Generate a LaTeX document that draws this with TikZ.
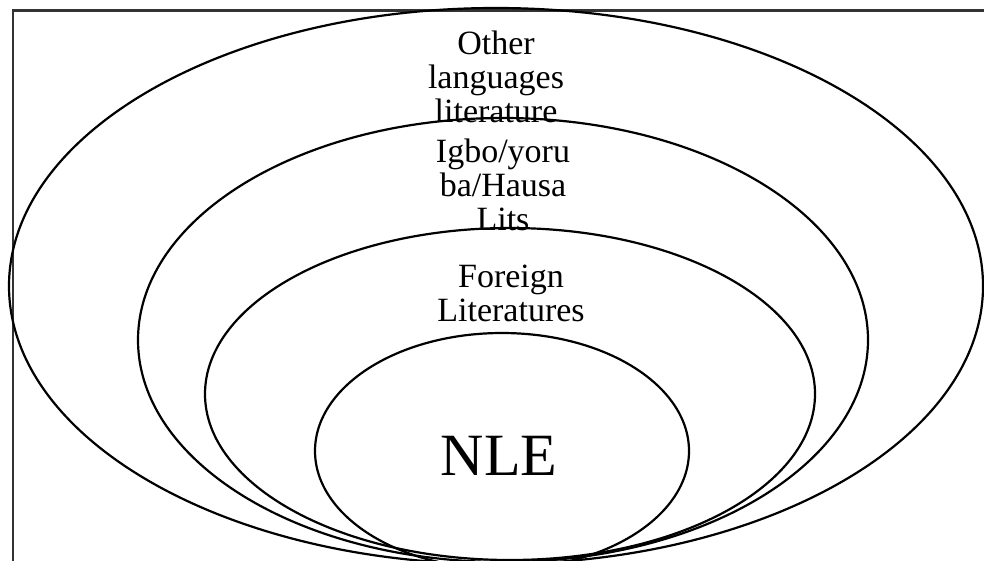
\documentclass[tikz,border=0pt]{standalone}
\usepackage{fontspec}
\setmainfont{Liberation Serif}
\usetikzlibrary{shapes.geometric}
\begin{document}
\begin{tikzpicture}[x=1pt,y=-1pt,
  ring/.style={draw=black, line width=2.2pt, ellipse, inner sep=0pt},
  lbl/.style={align=center, inner sep=0pt, font=\fontsize{34}{34}\selectfont},
  frame/.style={draw=black!80, line width=2.8pt}]
\useasboundingbox (0,0) rectangle (984,560);
\fill[white] (0,0) rectangle (984,560);
% frame (cut by the picture's right and bottom edges)
\coordinate (fbl) at (13,570);
\coordinate (ftl) at (13,10.5);
\coordinate (ftr) at (995,10.5);
\draw[frame] (fbl) -- (ftl) -- (ftr);
% nested ellipses
\node[ring, minimum width=974pt, minimum height=556pt] (e1) at (496,286) {};
\node[ring, minimum width=730pt, minimum height=444pt] (e2) at (503,340) {};
\node[ring, minimum width=610pt, minimum height=332pt] (e3) at (510,394) {};
\node[ring, minimum width=374pt, minimum height=236pt] (e4) at (502,451) {};
% labels
\node[lbl] (t1) at (496,77) {Other\\languages\\literature};
\node[lbl] (t2) at (503,185) {Igbo/yoru\\ba/Hausa\\Lits};
\node[lbl] (t3) at (511,293) {Foreign\\Literatures};
\node[anchor=base, inner sep=0pt, font=\fontsize{60}{60}\selectfont] (t4) at (499,475) {NLE};
\end{tikzpicture}
\end{document}
